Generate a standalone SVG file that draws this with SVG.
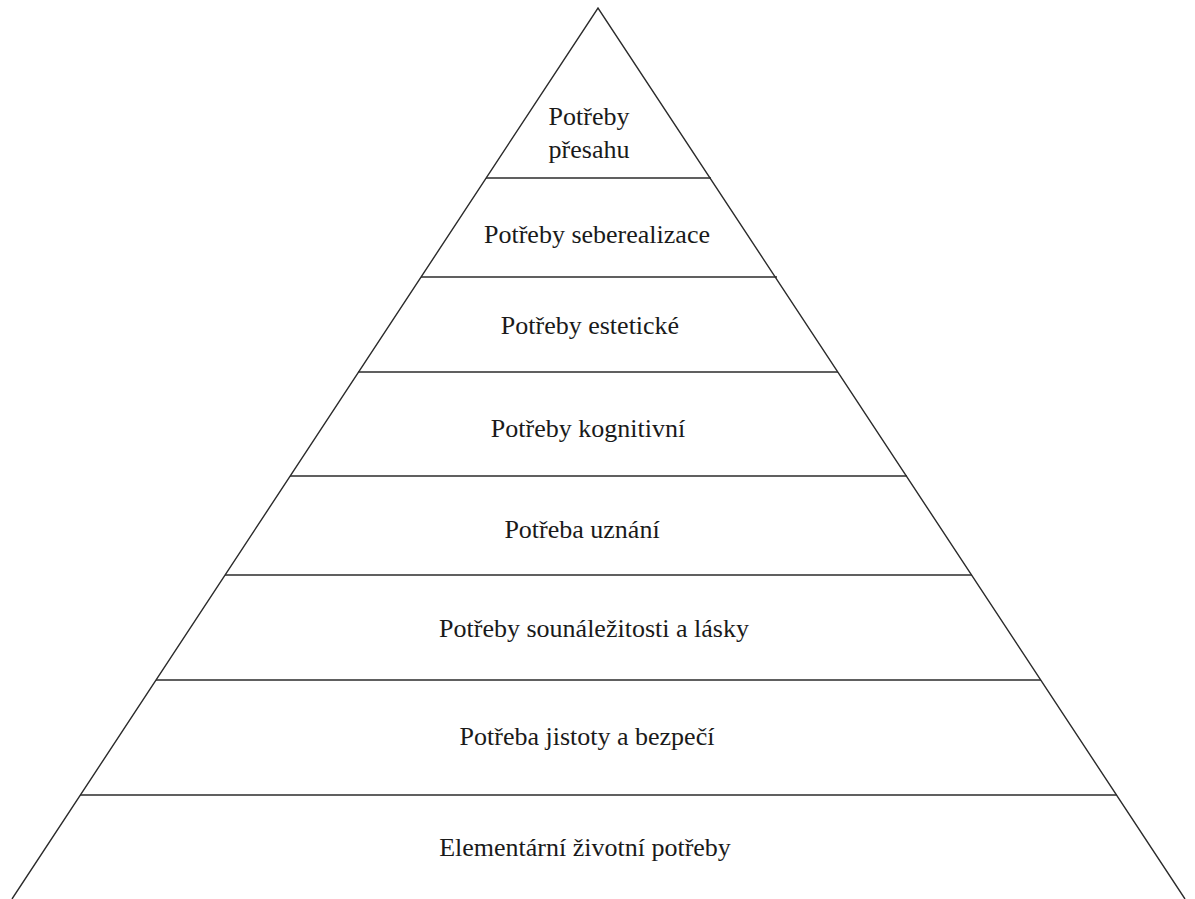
<svg xmlns="http://www.w3.org/2000/svg" width="1195" height="899" viewBox="0 0 1195 899">
<style>
.edge{stroke:#2b2b2b;stroke-width:1.4;fill:none}
.lbl{font-family:"Liberation Serif","Times New Roman",serif;font-size:26px;fill:#1a1a1a;text-anchor:middle}
</style>
<rect width="1195" height="899" fill="#ffffff"/>
<g id="connectors">
<path class="edge" d="M12,899 L598,8 L1185,899"/>
<line class="edge" x1="486" y1="178" x2="711" y2="178"/>
<line class="edge" x1="421" y1="277" x2="777" y2="277"/>
<line class="edge" x1="358" y1="372" x2="838" y2="372"/>
<line class="edge" x1="290" y1="476" x2="907" y2="476"/>
<line class="edge" x1="225" y1="575" x2="972" y2="575"/>
<line class="edge" x1="156" y1="680" x2="1041" y2="680"/>
<line class="edge" x1="80" y1="795" x2="1117" y2="795"/>
</g>
<g id="n1"><text class="lbl" x="589" y="125">Potřeby</text><text class="lbl" x="589" y="158">přesahu</text></g>
<g id="n2"><text class="lbl" x="597" y="243">Potřeby seberealizace</text></g>
<g id="n3"><text class="lbl" x="590" y="334">Potřeby estetické</text></g>
<g id="n4"><text class="lbl" x="588" y="437">Potřeby kognitivní</text></g>
<g id="n5"><text class="lbl" x="582" y="538">Potřeba uznání</text></g>
<g id="n6"><text class="lbl" x="594" y="637">Potřeby sounáležitosti a lásky</text></g>
<g id="n7"><text class="lbl" x="587" y="745">Potřeba jistoty a bezpečí</text></g>
<g id="n8"><text class="lbl" x="585" y="856">Elementární životní potřeby</text></g>
</svg>
